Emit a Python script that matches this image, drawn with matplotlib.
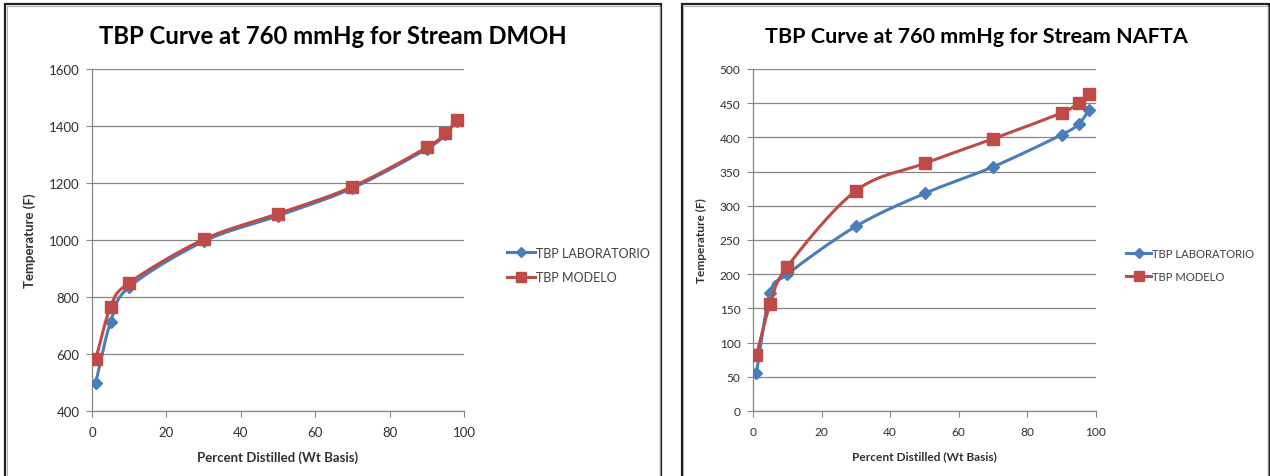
import numpy as np
import matplotlib
matplotlib.use("Agg")
import matplotlib.pyplot as plt
from matplotlib.patches import Rectangle
from matplotlib.lines import Line2D

plt.rcParams['font.family'] = ['Lato', 'DejaVu Sans']

# ---------------- data ----------------
pct = [1, 5, 10, 30, 50, 70, 90, 95, 98]
dmoh_lab = [500, 712, 835, 995, 1085, 1182, 1320, 1372, 1418]
dmoh_mod = [583, 765, 850, 1002, 1092, 1187, 1325, 1375, 1420]
nafta_lab = [56, 172, 200, 270, 318, 357, 404, 420, 440]
nafta_mod = [82, 156, 211, 322, 362, 398, 436, 451, 463]

series_names = ["TBP LABORATORIO", "TBP MODELO"]
titles = ["TBP Curve at 760 mmHg for Stream DMOH",
          "TBP Curve at 760 mmHg for Stream NAFTA"]
xlabel = "Percent Distilled (Wt Basis)"
ylabel = "Temperature (F)"
xticks = [0, 20, 40, 60, 80, 100]
yticks_dmoh = [400, 600, 800, 1000, 1200, 1400, 1600]
yticks_nafta = [0, 50, 100, 150, 200, 250, 300, 350, 400, 450, 500]

BLUE = "#4A7EBB"
RED = "#BE4B48"
GRID = "#868686"

W, H = 1270, 477
fig = plt.figure(figsize=(W / 100, H / 100), dpi=100)


def smooth(ax, xs, ys, n=30):
    """Catmull-Rom smoothing in axes-normalised space (like Excel smoothed line)."""
    x0, x1 = ax.get_xlim()
    y0, y1 = ax.get_ylim()
    bb = ax.get_position()
    sx = bb.width * W
    sy = bb.height * H
    px = (np.asarray(xs, float) - x0) / (x1 - x0) * sx
    py = (np.asarray(ys, float) - y0) / (y1 - y0) * sy
    P = np.column_stack([px, py])
    P = np.vstack([P[0] * 2 - P[1], P, P[-1] * 2 - P[-2]])
    out = []
    for i in range(1, len(P) - 2):
        p0, p1, p2, p3 = P[i - 1], P[i], P[i + 1], P[i + 2]
        t = np.linspace(0, 1, n)[:, None]
        c1 = p1 + (p2 - p0) / 6.0
        c2 = p2 - (p3 - p1) / 6.0
        seg = ((1 - t) ** 3) * p1 + 3 * ((1 - t) ** 2) * t * c1 + 3 * (1 - t) * t ** 2 * c2 + t ** 3 * p2
        out.append(seg if i == 1 else seg[1:])
    out = np.vstack(out)
    return (out[:, 0] / sx * (x1 - x0) + x0, out[:, 1] / sy * (y1 - y0) + y0)


def make_panel(rect, title, lab, mod, yticks, title_x, legend_x, k):
    ax = fig.add_axes(rect)
    ax.set_xlim(0, 100)
    ax.set_ylim(yticks[0], yticks[-1])
    ax.set_xticks(xticks)
    ax.set_yticks(yticks)
    ax.tick_params(axis='both', labelsize=9.5 * k, length=4,
                   width=0.8, direction='out', color=GRID)
    ax.tick_params(axis='x', pad=7)
    ax.tick_params(axis='y', pad=5)
    for lbl in ax.get_xticklabels() + ax.get_yticklabels():
        lbl.set_color("#303030")
    for s in ['top', 'right']:
        ax.spines[s].set_visible(False)
    for s in ['left', 'bottom']:
        ax.spines[s].set_color(GRID)
        ax.spines[s].set_linewidth(0.9)
    ax.yaxis.grid(True, color=GRID, linewidth=0.9)
    ax.set_axisbelow(True)

    bx, by = smooth(ax, pct, lab)
    ax.plot(bx, by, color=BLUE, lw=2.2, zorder=3)
    ax.plot(pct, lab, linestyle='none', marker='D', ms=6.5, color=BLUE, zorder=4)
    rx, ry = smooth(ax, pct, mod)
    ax.plot(rx, ry, color=RED, lw=2.2, zorder=5)
    ax.plot(pct, mod, linestyle='none', marker='s', ms=8, color=RED, zorder=6)

    ax.set_xlabel(xlabel, fontsize=9.5 * k, fontweight='bold', color="#303030", labelpad=9)
    ax.set_ylabel(ylabel, fontsize=9.5 * k, fontweight='bold', color="#303030", labelpad=9)

    fig.text(title_x, 1 - 37 / H, title, ha='center', va='center',
             fontsize=17.2 * k, fontweight='bold', color="#000000")

    handles = [Line2D([], [], color=BLUE, lw=2.2, marker='D', ms=5.5),
               Line2D([], [], color=RED, lw=2.2, marker='s', ms=7)]
    fig.legend(handles, series_names, loc='center left',
               bbox_to_anchor=(legend_x, 1 - 266 / H), frameon=False,
               fontsize=9 * k, handlelength=2.2, handletextpad=0.1,
               labelspacing=1.0 / k, labelcolor="#404040")
    return ax


# panel borders
for x0, x1 in [(5, 661), (682, 1269)]:
    fig.add_artist(Rectangle((x0 / W, -0.05), (x1 - x0) / W, 1 - 5 / H + 0.05,
                             transform=fig.transFigure, fill=False,
                             edgecolor="#202020", linewidth=1.6))
    fig.add_artist(Rectangle(((x0 + 1.5) / W, -0.05), (x1 - x0 - 3) / W, 1 - 6.5 / H + 0.05,
                             transform=fig.transFigure, fill=False,
                             edgecolor="#A0A0A0", linewidth=0.6))

bot = 1 - 412 / H
hgt = (412 - 70) / H
make_panel([92 / W, bot, (464 - 92) / W, hgt], titles[0], dmoh_lab, dmoh_mod,
           yticks_dmoh, 333 / W, 496 / W, 1.0)
make_panel([753 / W, bot, (1096 - 753) / W, hgt], titles[1], nafta_lab, nafta_mod,
           yticks_nafta, 976 / W, 1116 / W, 0.9)

fig.savefig("out.png", dpi=100)
